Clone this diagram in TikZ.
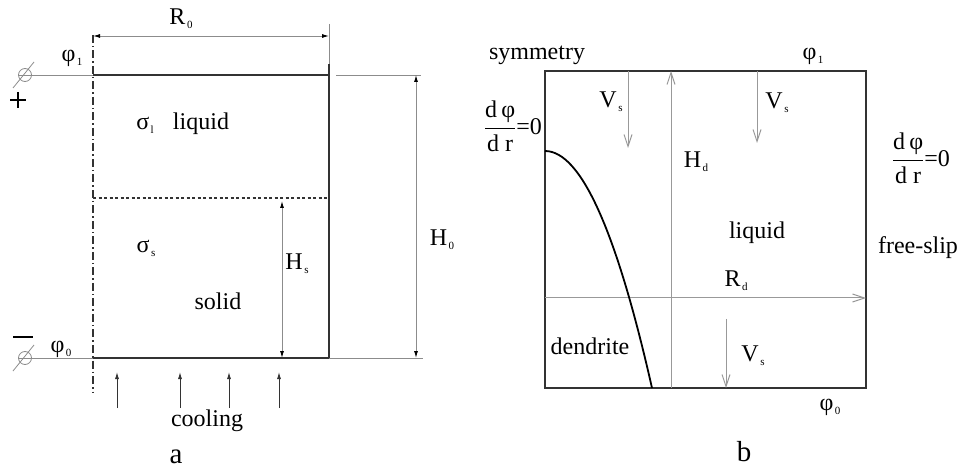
\documentclass[tikz,border=0pt]{standalone}
\usepackage{fontspec}
\setmainfont{Liberation Serif}
\usetikzlibrary{arrows.meta}
\newcommand{\mysub}[1]{\kern1.5pt\raisebox{-4pt}{\fontsize{11}{11}\selectfont #1}}
\newcommand{\myfrac}{$\displaystyle\frac{\mbox{d}\,\mbox{φ}}{\mbox{d r}}$=0}
\begin{document}
\begin{tikzpicture}[x=1pt,y=-1pt,
  every node/.style={inner sep=0pt,font=\fontsize{24}{24}\selectfont},
  panellabel/.style={font=\fontsize{29}{29}\selectfont},
  wall/.style={line width=2.4pt,draw=black!80},
  thinline/.style={line width=0.9pt,draw=black!45},
  dimarrow/.style={thinline,{Latex[length=7pt,width=4pt,black]}-{Latex[length=7pt,width=4pt,black]}},
  coolarrow/.style={line width=0.9pt,draw=black!80,-{Latex[length=7pt,width=4pt]}},
  symline/.style={line width=1.2pt,draw=black!80,dash pattern=on 8pt off 3pt on 1.5pt off 3pt},
  ifaceline/.style={line width=1.2pt,draw=black!80,dash pattern=on 3pt off 2.5pt},
  boxline/.style={line width=1.4pt,draw=black!80},
  grayarrow/.style={line width=1pt,draw=black!40,-{Straight Barb[length=12pt,width=8pt]}},
  dendline/.style={line width=1.8pt,draw=black}
]
\useasboundingbox (0,0) rectangle (962,473);
% ---------------- panel a ----------------
\coordinate (TL) at (93,75);
\coordinate (TR) at (329,75);
\coordinate (BLa) at (93,358);
\coordinate (BRa) at (329,358);
\coordinate (symtop) at (93,35);
\coordinate (symbot) at (93,393);
\coordinate (R0l) at (93,36);
\coordinate (R0r) at (329,36);
\coordinate (walltick) at (329,24);
\coordinate (walltop) at (329,64);
\coordinate (IFl) at (93,198);
\coordinate (IFr) at (329,198);
\coordinate (HsT) at (282,201);
\coordinate (HsB) at (282,358);
\coordinate (H0T) at (416,75);
\coordinate (H0B) at (416,358);
\coordinate (extT1) at (336,75);
\coordinate (extT2) at (421,75);
\coordinate (extB2) at (423,358);
\coordinate (plusC) at (25,75);
\coordinate (minusC) at (25,358);
\coordinate (leadT) at (18,75);
\coordinate (leadB) at (18,358);

\draw[symline] (symtop) -- (symbot);
\draw[dimarrow] (R0l) -- (R0r);
\draw[thinline] (walltick) -- (walltop);
\draw[wall] (TL) -- (TR);
\draw[wall] (walltop) -- (BRa) -- (BLa);
\draw[ifaceline] (IFl) -- (IFr);
\draw[thinline] (leadT) -- (TL);
\draw[thinline] (leadB) -- (BLa);
\draw[thinline] (extT1) -- (extT2);
\draw[thinline] (BRa) -- (extB2);
\draw[dimarrow] (HsT) -- (HsB);
\draw[dimarrow] (H0T) -- (H0B);
% terminals
\draw[line width=0.8pt,black!45] (plusC) circle (6.5);
\draw[line width=0.8pt,black!45] (13,88) -- (34,62);
\draw[line width=0.8pt,black!45] (minusC) circle (6.5);
\draw[line width=0.8pt,black!45] (13,371) -- (34,345);
\draw[line width=1.4pt,black] (10,100) -- (26,100);
\draw[line width=1.4pt,black] (18,92) -- (18,108);
\draw[line width=1.4pt,black] (13,337) -- (33,337);
% cooling arrows
\foreach \x/\n in {117/c1,180/c2,229/c3,279/c4}{
  \coordinate (\n s) at (\x,408);
  \coordinate (\n e) at (\x,372);
  \draw[coolarrow] (\n s) -- (\n e);
}
\node (R0) at (181,19) {R\mysub{0}};
\node (phi1a) at (72,58) {φ\mysub{1}};
\node (sig1) at (145,125) {σ\mysub{l}};
\node (liqa) at (201,124) {liquid};
\node (sigs) at (146,248) {σ\mysub{s}};
\node (Hs) at (297,264) {H\mysub{s}};
\node (solid) at (218,301) {solid};
\node (H0) at (442,240) {H\mysub{0}};
\node (phi0a) at (61,349) {φ\mysub{0}};
\node (cool) at (207,421) {cooling};
\node[panellabel] (lbla) at (176,457) {a};
% ---------------- panel b ----------------
\coordinate (bTL) at (545,71);
\coordinate (bTR) at (866,71);
\coordinate (bBR) at (866,388);
\coordinate (bBL) at (545,388);
\draw[boxline] (bTL) -- (bTR) -- (bBR) -- (bBL) -- cycle;
\coordinate (v1s) at (628,71);
\coordinate (v1e) at (628,148);
\coordinate (v2s) at (757,71);
\coordinate (v2e) at (757,143);
\coordinate (v3s) at (726,319);
\coordinate (v3e) at (726,388);
\coordinate (Hds) at (671,388);
\coordinate (Hde) at (671,71);
\coordinate (Rds) at (545,298);
\coordinate (Rde) at (866,298);
\draw[grayarrow] (v1s) -- (v1e);
\draw[grayarrow] (v2s) -- (v2e);
\draw[grayarrow] (v3s) -- (v3e);
\draw[grayarrow] (Hds) -- (Hde);
\draw[grayarrow] (Rds) -- (Rde);
\coordinate (dtip) at (545,151);
\coordinate (dbase) at (652,388);
\draw[dendline] (dtip) .. controls (580.7,151) and (616.3,230) .. (dbase);
\node (symm) at (537,55) {symmetry};
\node (phi1b) at (813,56) {φ\mysub{1}};
\node (fracL) at (513,126) {\myfrac};
\node (fracR) at (921,158) {\myfrac};
\node (Vs1) at (611,102) {V\mysub{s}};
\node (Vs2) at (777,103) {V\mysub{s}};
\node (Hd) at (696,162) {H\mysub{d}};
\node (liqb) at (757,233) {liquid};
\node (fs) at (918,248) {free-slip};
\node (Rd) at (736,281) {R\mysub{d}};
\node (dend) at (590,346) {dendrite};
\node (Vs3) at (753,356) {V\mysub{s}};
\node (phi0b) at (830,407) {φ\mysub{0}};
\node[panellabel] (lblb) at (744,452) {b};
\end{tikzpicture}
\end{document}
